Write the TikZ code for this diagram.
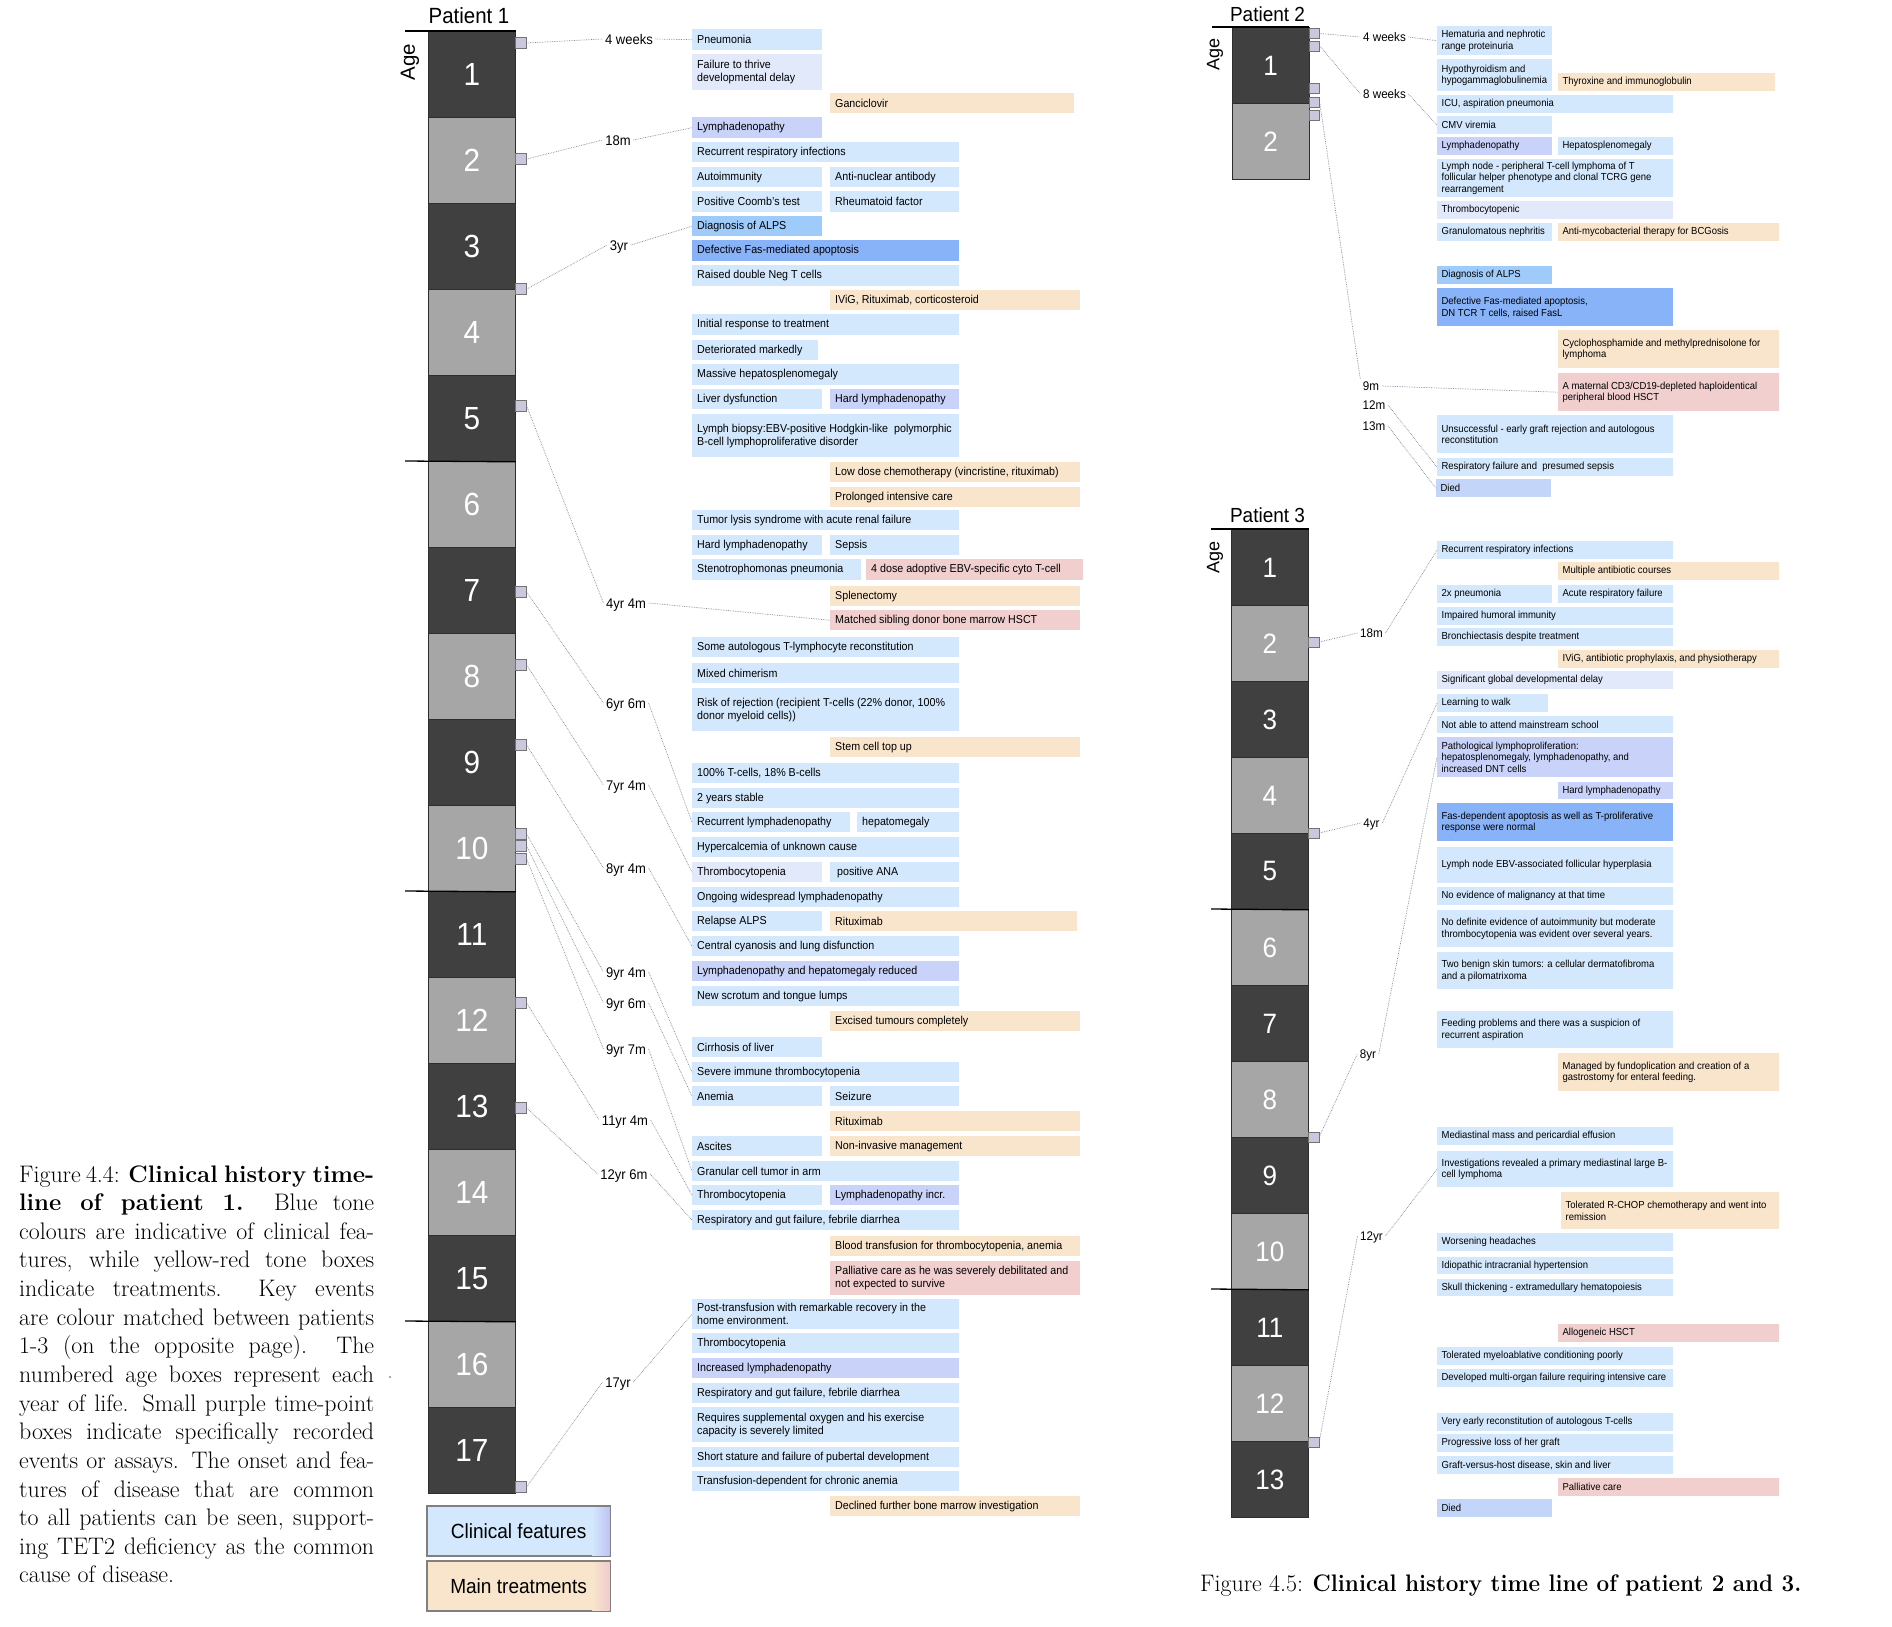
\documentclass[tikz,border=0pt]{standalone}
\usepackage{graphicx}
\usepackage{fontspec}
\newfontfamily\cf[FakeStretch=0.93]{Liberation Sans}
\newfontfamily\cfn{Liberation Sans}
\definecolor{cblue}{HTML}{D3E8FC}
\definecolor{clav}{HTML}{E1E9FB}
\definecolor{cperi}{HTML}{C9D3FA}
\definecolor{cmid}{HTML}{9FCBFB}
\definecolor{cstrong}{HTML}{89B3F8}
\definecolor{cpeach}{HTML}{F8E5CC}
\definecolor{cpink}{HTML}{F2CFCF}
\definecolor{cdied}{HTML}{C3D5F8}
\definecolor{cdark}{HTML}{404040}
\definecolor{clight}{HTML}{A6A6A6}
\definecolor{csq}{HTML}{CAC8DC}
\definecolor{cconn}{HTML}{7C8898}
\definecolor{cperiL}{HTML}{BFC2F5}
\definecolor{cpinkL}{HTML}{F0CCCC}
\tikzset{
  box/.style={inner sep=0,draw=none},
  clin/.style={box,fill=cblue},
  lav/.style={box,fill=clav},
  peri/.style={box,fill=cperi},
  mid/.style={box,fill=cmid},
  strong/.style={box,fill=cstrong},
  treat/.style={box,fill=cpeach},
  key/.style={box,fill=cpink},
  died/.style={box,fill=cdied},
  btA/.style={inner sep=0,align=left,font=\cf\fontsize{11.5}{13.3}\selectfont},
  btB/.style={inner sep=0,align=left,font=\cf\fontsize{10.2}{11.6}\selectfont},
  bt/.style={btA},
  yrbox/.style={draw={rgb,255:red,45;green,45;blue,45},line width=0.8pt,inner sep=0,anchor=north west,text=white},
  tpA/.style={draw=black!55,fill=csq,line width=0.7pt,minimum width=11pt,minimum height=11pt,inner sep=0,anchor=west},
  tpB/.style={draw=black!55,fill=csq,line width=0.7pt,minimum width=10.5pt,minimum height=10pt,inner sep=0,anchor=west},
  tlA/.style={inner sep=2.5pt,text height=10pt,text depth=0pt,font=\cf\fontsize{14}{14}\selectfont},
  tlB/.style={inner sep=2.5pt,text height=9pt,text depth=0pt,font=\cf\fontsize{12.5}{12.5}\selectfont},
  conn/.style={densely dotted,draw=cconn,line width=0.7pt},
  sepl/.style={draw=black,line width=1.3pt},
  legbox/.style={draw=black!50,line width=1.2pt,inner sep=0,anchor=north west,minimum width=182pt,minimum height=49pt},
}
\newcommand\bpad{5pt}
\newcommand\bx[7]{%
  \node[#6,minimum width={(#4-#2)*1pt},minimum height={(#5-#3)*1pt},anchor=north west] (#1) at (#2,#3) {};
  \node[bt,anchor=west] (#1t) at ([xshift=\bpad]#1.west) {#7};}
\newcommand\capline[2]{%
  \node[anchor=base west,inner sep=0,font=\fontsize{23.9}{28.7}\selectfont] (cap#1) at (19,{1182+28.64*(#1-1)}) {#2};}
\begin{document}
\begin{tikzpicture}[x=1pt,y=-1pt]
\fill[white] (0,0) rectangle (1892,1626);
\useasboundingbox (0,0) rectangle (1892,1626);

% ---------------- Caption 4.4
\capline{1}{\makebox[355pt][s]{Figure 4.4: \textbf{Clinical history time-}}}
\capline{2}{\makebox[355pt][s]{\textbf{line of patient 1.}\ \ Blue tone}}
\capline{3}{\makebox[355pt][s]{colours are indicative of clinical fea-}}
\capline{4}{\makebox[355pt][s]{tures, while yellow-red tone boxes}}
\capline{5}{\makebox[355pt][s]{indicate treatments.\ \ Key events}}
\capline{6}{\makebox[355pt][s]{are colour matched between patients}}
\capline{7}{\makebox[355pt][s]{1-3 (on the opposite page).\ \ The}}
\capline{8}{\makebox[355pt][s]{numbered age boxes represent each}}
\capline{9}{\makebox[355pt][s]{year of life. Small purple time-point}}
\capline{10}{\makebox[355pt][s]{boxes indicate specifically recorded}}
\capline{11}{\makebox[355pt][s]{events or assays. The onset and fea-}}
\capline{12}{\makebox[355pt][s]{tures of disease that are common}}
\capline{13}{\makebox[355pt][s]{to all patients can be seen, support-}}
\capline{14}{\makebox[355pt][s]{ing TET2 deficiency as the common}}
\capline{15}{cause of disease.}
\fill[black!45] (390,1377) circle (1.1);

\node[anchor=base west,inner sep=0,font=\fontsize{23.9}{28.7}\selectfont] (cap2) at (1200,1591) {Figure 4.5: \scalebox{0.94}[1]{\textbf{Clinical history time line of patient 2 and 3.}}};

% ---------------- Patient 1 bar
\node[font=\cf\fontsize{22}{22}\selectfont,inner sep=0] (p1title) at (469,16) {Patient 1};
\node[rotate=90,inner sep=0,font=\cfn\fontsize{20.5}{20.5}\selectfont] (p1age) at (410,62) {Age};
\foreach \i in {1,...,17}{%
  \pgfmathsetmacro\yy{31+86*(\i-1)}%
  \ifodd\i\relax\def\yc{cdark}\else\def\yc{clight}\fi
  \node[yrbox,fill=\yc,minimum width=87pt,minimum height=86pt,font=\cf\fontsize{32}{32}\selectfont] (pa\i) at (428,\yy) {\i};}
\draw[sepl] (405,31) -- (pa1.north east);
\draw[sepl] (405,461) -- (pa5.south east);
\draw[sepl] (405,891) -- (pa10.south east);
\draw[sepl] (405,1321) -- (pa15.south east);

% squares
\node[tpA] (s1) at (515,43) {};
\node[tpA] (s2) at (515,159) {};
\node[tpA] (s3) at (515,289) {};
\node[tpA] (s4) at (515,406) {};
\node[tpA] (s5) at (515,592) {};
\node[tpA] (s6) at (515,665) {};
\node[tpA] (s7) at (515,745) {};
\node[tpA] (s8) at (515,834) {};
\node[tpA] (s9) at (515,846) {};
\node[tpA] (s10) at (515,859) {};
\node[tpA] (s11) at (515,1003) {};
\node[tpA] (s12) at (515,1108) {};
\node[tpA] (s13) at (515,1487) {};

% labels
\node[tlA] (l1) at (629,39) {4 weeks};
\node[tlA] (l2) at (618,140) {18m};
\node[tlA] (l3) at (619,245) {3yr};
\node[tlA] (l4) at (626,603) {4yr 4m};
\node[tlA] (l5) at (626,703) {6yr 6m};
\node[tlA] (l6) at (626,785) {7yr 4m};
\node[tlA] (l7) at (626,868) {8yr 4m};
\node[tlA] (l8) at (626,972) {9yr 4m};
\node[tlA] (l9) at (626,1003) {9yr 6m};
\node[tlA] (l10) at (626,1049) {9yr 7m};
\node[tlA] (l11) at (625,1120) {11yr 4m};
\node[tlA] (l12) at (624,1174) {12yr 6m};
\node[tlA] (l13) at (618,1382) {17yr};

% boxes patient 1
\bx{p1a}{692}{29}{822}{50}{clin}{Pneumonia}
\bx{p1b}{692}{54}{822}{90}{lav}{Failure to thrive\\developmental delay}
\bx{p1c}{830}{93}{1074}{113}{treat}{Ganciclovir}
\bx{p1d}{692}{117}{822}{138}{peri}{Lymphadenopathy}
\bx{p1e}{692}{142}{959}{162}{clin}{Recurrent respiratory infections}
\bx{p1f}{692}{167}{822}{187}{clin}{Autoimmunity}
\bx{p1g}{830}{167}{959}{187}{clin}{Anti-nuclear antibody}
\bx{p1h}{692}{191}{822}{212}{clin}{Positive Coomb’s test}
\bx{p1i}{830}{191}{959}{212}{clin}{Rheumatoid factor}
\bx{p1j}{692}{216}{822}{236}{mid}{Diagnosis of ALPS}
\bx{p1k}{692}{240}{959}{261}{strong}{Defective Fas-mediated apoptosis}
\bx{p1l}{692}{265}{959}{286}{clin}{Raised double Neg T cells}
\bx{p1m}{830}{290}{1080}{310}{treat}{IViG, Rituximab, corticosteroid}
\bx{p1n}{692}{314}{959}{335}{clin}{Initial response to treatment}
\bx{p1o}{692}{340}{818}{360}{clin}{Deteriorated markedly}
\bx{p1p}{692}{364}{959}{385}{clin}{Massive hepatosplenomegaly}
\bx{p1q}{692}{389}{822}{409}{clin}{Liver dysfunction}
\bx{p1r}{830}{389}{959}{409}{peri}{Hard lymphadenopathy}
\bx{p1s}{692}{414}{959}{457}{clin}{Lymph biopsy:EBV-positive Hodgkin-like\ \ polymorphic\\B-cell lymphoproliferative disorder}
\bx{p1t}{830}{462}{1080}{482}{treat}{Low dose chemotherapy (vincristine, rituximab)}
\bx{p1u}{830}{487}{1080}{507}{treat}{Prolonged intensive care}
\bx{p1v}{692}{510}{959}{530}{clin}{Tumor lysis syndrome with acute renal failure}
\bx{p1w}{692}{535}{822}{555}{clin}{Hard lymphadenopathy}
\bx{p1x}{830}{535}{959}{555}{clin}{Sepsis}
\bx{p1y}{692}{559}{861}{580}{clin}{Stenotrophomonas pneumonia}
\bx{p1z}{866}{559}{1083}{580}{key}{4 dose adoptive EBV-specific cyto T-cell}
\bx{p1aa}{830}{586}{1080}{606}{treat}{Splenectomy}
\bx{p1ab}{830}{610}{1080}{630}{key}{Matched sibling donor bone marrow HSCT}
\bx{p1ac}{692}{637}{959}{657}{clin}{Some autologous T-lymphocyte reconstitution}
\bx{p1ad}{692}{663}{959}{683}{clin}{Mixed chimerism}
\bx{p1ae}{692}{688}{959}{731}{clin}{Risk of rejection (recipient T-cells (22\% donor, 100\%\\donor myeloid cells))}
\bx{p1af}{830}{737}{1080}{757}{treat}{Stem cell top up}
\bx{p1ag}{692}{763}{959}{783}{clin}{100\% T-cells, 18\% B-cells}
\bx{p1ah}{692}{788}{959}{808}{clin}{2 years stable}
\bx{p1ai}{692}{812}{850}{832}{clin}{Recurrent lymphadenopathy}
\bx{p1aj}{857}{812}{959}{832}{clin}{hepatomegaly}
\bx{p1ak}{692}{837}{959}{857}{clin}{Hypercalcemia of unknown cause}
\bx{p1al}{692}{862}{822}{882}{lav}{Thrombocytopenia}
\bx{p1am}{830}{862}{959}{882}{clin}{\,positive ANA}
\bx{p1an}{692}{887}{959}{907}{clin}{Ongoing widespread lymphadenopathy}
\bx{p1ao}{692}{911}{822}{931}{clin}{Relapse ALPS}
\bx{p1ap}{830}{911}{1077}{931}{treat}{Rituximab}
\bx{p1aq}{692}{936}{959}{956}{clin}{Central cyanosis and lung disfunction}
\bx{p1ar}{692}{961}{959}{981}{peri}{Lymphadenopathy and hepatomegaly reduced}
\bx{p1as}{692}{986}{959}{1006}{clin}{New scrotum and tongue lumps}
\bx{p1at}{830}{1011}{1080}{1031}{treat}{Excised tumours completely}
\bx{p1au}{692}{1037}{822}{1057}{clin}{Cirrhosis of liver}
\bx{p1av}{692}{1062}{959}{1082}{clin}{Severe immune thrombocytopenia}
\bx{p1aw}{692}{1086}{822}{1106}{clin}{Anemia}
\bx{p1ax}{830}{1086}{959}{1106}{clin}{Seizure}
\bx{p1ay}{830}{1111}{1080}{1131}{treat}{Rituximab}
\bx{p1az}{692}{1136}{822}{1156}{clin}{Ascites}
\bx{p1ba}{830}{1136}{1080}{1156}{treat}{Non-invasive management}
\bx{p1bb}{692}{1161}{959}{1181}{clin}{Granular cell tumor in arm}
\bx{p1bc}{692}{1185}{822}{1205}{clin}{Thrombocytopenia}
\bx{p1bd}{830}{1185}{959}{1205}{peri}{Lymphadenopathy incr.}
\bx{p1be}{692}{1210}{959}{1230}{clin}{Respiratory and gut failure, febrile diarrhea}
\bx{p1bf}{830}{1236}{1080}{1256}{treat}{Blood transfusion for thrombocytopenia, anemia}
\bx{p1bg}{830}{1261}{1080}{1295}{key}{Palliative care as he was severely debilitated and\\not expected to survive}
\bx{p1bh}{692}{1299}{959}{1329}{clin}{Post-transfusion with remarkable recovery in the\\home environment.}
\bx{p1bi}{692}{1333}{959}{1353}{clin}{Thrombocytopenia}
\bx{p1bj}{692}{1358}{959}{1378}{peri}{Increased lymphadenopathy}
\bx{p1bk}{692}{1383}{959}{1403}{clin}{Respiratory and gut failure, febrile diarrhea}
\bx{p1bl}{692}{1407}{959}{1442}{clin}{Requires supplemental oxygen and his exercise\\capacity is severely limited}
\bx{p1bm}{692}{1447}{959}{1467}{clin}{Short stature and failure of pubertal development}
\bx{p1bn}{692}{1471}{959}{1491}{clin}{Transfusion-dependent for chronic anemia}
\bx{p1bo}{830}{1496}{1080}{1516}{treat}{Declined further bone marrow investigation}

% connectors patient 1
\draw[conn] (s1.east) -- (l1.west);  \draw[conn] (l1.east) -- (p1a.west);
\draw[conn] (s2.east) -- (l2.west);  \draw[conn] (l2.east) -- (p1d.west);
\draw[conn] (s3.east) -- (l3.west);  \draw[conn] (l3.east) -- (p1j.west);
\draw[conn] (s4.east) -- (l4.west);  \draw[conn] (l4.east) -- (p1ab.west);
\draw[conn] (s5.east) -- (l5.west);  \draw[conn] (l5.east) -- (p1ai.west);
\draw[conn] (s6.east) -- (l6.west);  \draw[conn] (l6.east) -- (p1al.west);
\draw[conn] (s7.east) -- (l7.west);  \draw[conn] (l7.east) -- (p1aq.west);
\draw[conn] (s8.east) -- (l8.west);  \draw[conn] (l8.east) -- (p1av.west);
\draw[conn] (s9.east) -- (l9.west);  \draw[conn] (l9.east) -- (p1aw.west);
\draw[conn] (s10.east) -- (l10.west); \draw[conn] (l10.east) -- (p1bb.west);
\draw[conn] (s11.east) -- (l11.west); \draw[conn] (l11.east) -- (p1bc.west);
\draw[conn] (s12.east) -- (l12.west); \draw[conn] (l12.east) -- (p1be.west);
\draw[conn] (s13.east) -- (l13.west); \draw[conn] (l13.east) -- (p1bh.west);

% legend
\node[legbox,fill=cblue] (legcf) at (427,1506) {};
\shade[left color=cblue,right color=cperiL] ([xshift=-18pt,yshift=-0.6pt]legcf.north east) rectangle ([xshift=-0.6pt,yshift=0.6pt]legcf.south east);
\draw[draw=black!50,line width=1.2pt] (legcf.north west) rectangle (legcf.south east);
\node[inner sep=0,font=\cf\fontsize{20.5}{20.5}\selectfont] (legcft) at (legcf.center) {Clinical features};
\node[legbox,fill=cpeach] (legmt) at (427,1561) {};
\shade[left color=cpeach,right color=cpinkL] ([xshift=-18pt,yshift=-0.6pt]legmt.north east) rectangle ([xshift=-0.6pt,yshift=0.6pt]legmt.south east);
\draw[draw=black!50,line width=1.2pt] (legmt.north west) rectangle (legmt.south east);
\node[inner sep=0,font=\cf\fontsize{20.5}{20.5}\selectfont] (legmtt) at (legmt.center) {Main treatments};

% ---------------- Patient 2
\tikzset{bt/.style={btB}}
\renewcommand\bpad{4.4pt}
\node[font=\cf\fontsize{20.4}{20.4}\selectfont,inner sep=0] (p2title) at (1267.5,14) {Patient 2};
\node[rotate=90,inner sep=0,font=\cfn\fontsize{18}{18}\selectfont] (p2age) at (1215,54) {Age};
\foreach \i in {1,2}{%
  \pgfmathsetmacro\yy{27+76*(\i-1)}%
  \ifodd\i\relax\def\yc{cdark}\else\def\yc{clight}\fi
  \node[yrbox,fill=\yc,minimum width=76.5pt,minimum height=76pt,font=\cf\fontsize{28}{28}\selectfont] (pb\i) at (1232,\yy) {\i};}
\draw[sepl] (1212,27) -- (pb1.north east);
\node[tpB] (q1) at (1308.5,33.5) {};
\node[tpB] (q2) at (1308.5,46) {};
\node[tpB] (q3) at (1308.5,88) {};
\node[tpB] (q4) at (1308.5,102.5) {};
\node[tpB] (q5) at (1308.5,115) {};
\node[tlB] (m1) at (1384.5,37) {4 weeks};
\node[tlB] (m2) at (1384.5,94) {8 weeks};
\node[tlB] (m3) at (1371,386) {9m};
\node[tlB] (m4) at (1374,405) {12m};
\node[tlB] (m5) at (1374,426) {13m};

\bx{p2a}{1437}{26}{1552}{55}{clin}{Hematuria and nephrotic\\range proteinuria}
\bx{p2b}{1437}{59}{1552}{91}{clin}{Hypothyroidism and\\hypogammaglobulinemia}
\bx{p2c}{1558}{73}{1775}{91}{treat}{Thyroxine and immunoglobulin}
\bx{p2d}{1437}{95}{1673}{113}{clin}{ICU, aspiration pneumonia}
\bx{p2e}{1437}{116}{1552}{134}{clin}{CMV viremia}
\bx{p2f}{1437}{137}{1552}{155}{peri}{Lymphadenopathy}
\bx{p2g}{1558}{137}{1673}{155}{clin}{Hepatosplenomegaly}
\bx{p2h}{1437}{159}{1673}{197}{clin}{Lymph node - peripheral T-cell lymphoma of T\\follicular helper phenotype and clonal TCRG gene\\rearrangement}
\bx{p2i}{1437}{201}{1673}{219}{lav}{Thrombocytopenic}
\bx{p2j}{1437}{223}{1552}{241}{clin}{Granulomatous nephritis}
\bx{p2k}{1558}{223}{1779}{241}{treat}{Anti-mycobacterial therapy for BCGosis}
\bx{p2l}{1437}{266}{1552}{284}{mid}{Diagnosis of ALPS}
\bx{p2m}{1437}{288}{1673}{326}{strong}{Defective Fas-mediated apoptosis,\\DN TCR T cells, raised FasL}
\bx{p2n}{1558}{330}{1779}{368}{treat}{Cyclophosphamide and methylprednisolone for\\lymphoma}
\bx{p2o}{1558}{373}{1779}{411}{key}{A maternal CD3/CD19-depleted haploidentical\\peripheral blood HSCT}
\bx{p2p}{1437}{415}{1673}{453}{clin}{Unsuccessful - early graft rejection and autologous\\reconstitution}
\bx{p2q}{1437}{458}{1673}{476}{clin}{Respiratory failure and\ \ presumed sepsis}
\bx{p2r}{1436}{479}{1551}{497}{died}{Died}

\draw[conn] (q1.east) -- (m1.west); \draw[conn] (m1.east) -- (p2a.west);
\draw[conn] (q2.east) -- (m2.west); \draw[conn] (m2.east) -- (p2e.west);
\draw[conn] (q4.east) -- (m3.north west); \draw[conn] (m3.east) -- (p2o.west);
\draw[conn] (m4.east) -- (p2q.west);
\draw[conn] (m5.east) -- (p2r.west);

% ---------------- Patient 3
\node[font=\cf\fontsize{20.4}{20.4}\selectfont,inner sep=0] (p3title) at (1267.5,515) {Patient 3};
\node[rotate=90,inner sep=0,font=\cfn\fontsize{18}{18}\selectfont] (p3age) at (1215,557) {Age};
\foreach \i in {1,...,13}{%
  \pgfmathsetmacro\yy{529+76*(\i-1)}%
  \ifodd\i\relax\def\yc{cdark}\else\def\yc{clight}\fi
  \node[yrbox,fill=\yc,minimum width=77pt,minimum height=76pt,font=\cf\fontsize{28}{28}\selectfont] (pc\i) at (1231,\yy) {\i};}
\draw[sepl] (1211,529) -- (pc1.north east);
\draw[sepl] (1211,909) -- (pc5.south east);
\draw[sepl] (1211,1289) -- (pc10.south east);
\node[tpB] (r1) at (1308,642) {};
\node[tpB] (r2) at (1308,833) {};
\node[tpB] (r3) at (1308,1137) {};
\node[tpB] (r4) at (1308,1442) {};
\node[tlB] (n1) at (1371.5,633) {18m};
\node[tlB] (n2) at (1371.5,823) {4yr};
\node[tlB] (n3) at (1368,1054) {8yr};
\node[tlB] (n4) at (1371.5,1236) {12yr};

\bx{p3a}{1437}{541}{1673}{559}{clin}{Recurrent respiratory infections}
\bx{p3b}{1558}{562}{1779}{580}{treat}{Multiple antibiotic courses}
\bx{p3c}{1437}{585}{1552}{603}{clin}{2x pneumonia}
\bx{p3d}{1558}{585}{1673}{603}{clin}{Acute respiratory failure}
\bx{p3e}{1437}{607}{1673}{625}{clin}{Impaired humoral immunity}
\bx{p3f}{1437}{628}{1673}{646}{clin}{Bronchiectasis despite treatment}
\bx{p3g}{1558}{650}{1779}{668}{treat}{IViG, antibiotic prophylaxis, and physiotherapy}
\bx{p3h}{1437}{671}{1673}{689}{lav}{Significant global developmental delay}
\bx{p3i}{1437}{694}{1548}{712}{clin}{Learning to walk}
\bx{p3j}{1437}{716}{1673}{733}{clin}{Not able to attend mainstream school}
\bx{p3k}{1437}{737}{1673}{777}{peri}{Pathological lymphoproliferation:\\hepatosplenomegaly, lymphadenopathy, and\\increased DNT cells}
\bx{p3l}{1558}{782}{1673}{799}{peri}{Hard lymphadenopathy}
\bx{p3m}{1437}{803}{1673}{841}{strong}{Fas-dependent apoptosis as well as T-proliferative\\response were normal}
\bx{p3n}{1437}{847}{1673}{883}{clin}{Lymph node EBV-associated follicular hyperplasia}
\bx{p3o}{1437}{887}{1673}{905}{clin}{No evidence of malignancy at that time}
\bx{p3p}{1437}{910}{1673}{947}{clin}{No definite evidence of autoimmunity but moderate\\thrombocytopenia was evident over several years.}
\bx{p3q}{1437}{952}{1673}{989}{clin}{Two benign skin tumors: a cellular dermatofibroma\\and a pilomatrixoma}
\bx{p3r}{1437}{1011}{1673}{1048}{clin}{Feeding problems and there was a suspicion of\\recurrent aspiration}
\bx{p3s}{1558}{1053}{1779}{1091}{treat}{Managed by fundoplication and creation of a\\gastrostomy for enteral feeding.}
\bx{p3t}{1437}{1127}{1673}{1145}{clin}{Mediastinal mass and pericardial effusion}
\bx{p3u}{1437}{1151}{1673}{1187}{clin}{Investigations revealed a primary mediastinal large B-\\cell lymphoma}
\bx{p3v}{1561}{1192}{1779}{1229}{treat}{Tolerated R-CHOP chemotherapy and went into\\remission}
\bx{p3w}{1437}{1233}{1673}{1251}{clin}{Worsening headaches}
\bx{p3x}{1437}{1257}{1673}{1274}{clin}{Idiopathic intracranial hypertension}
\bx{p3y}{1437}{1279}{1673}{1296}{clin}{Skull thickening - extramedullary hematopoiesis}
\bx{p3z}{1558}{1324}{1779}{1342}{key}{Allogeneic HSCT}
\bx{p3aa}{1437}{1347}{1673}{1365}{clin}{Tolerated myeloablative conditioning poorly}
\bx{p3ab}{1437}{1369}{1673}{1387}{clin}{Developed multi-organ failure requiring intensive care}
\bx{p3ac}{1437}{1413}{1673}{1431}{clin}{Very early reconstitution of autologous T-cells}
\bx{p3ad}{1437}{1434}{1673}{1452}{clin}{Progressive loss of her graft}
\bx{p3ae}{1437}{1456}{1673}{1474}{clin}{Graft-versus-host disease, skin and liver}
\bx{p3af}{1558}{1478}{1779}{1496}{key}{Palliative care}
\bx{p3ag}{1437}{1499}{1552}{1517}{died}{Died}

\draw[conn] (r1.east) -- (n1.west); \draw[conn] (n1.east) -- (p3a.west);
\draw[conn] (r2.east) -- (n2.west); \draw[conn] (n2.east) -- (p3i.west);
\draw[conn] (r3.east) -- (n3.west); \draw[conn] (n3.east) -- (p3k.west);
\draw[conn] (r4.east) -- (n4.west); \draw[conn] (n4.east) -- (p3u.west);
\end{tikzpicture}
\end{document}
